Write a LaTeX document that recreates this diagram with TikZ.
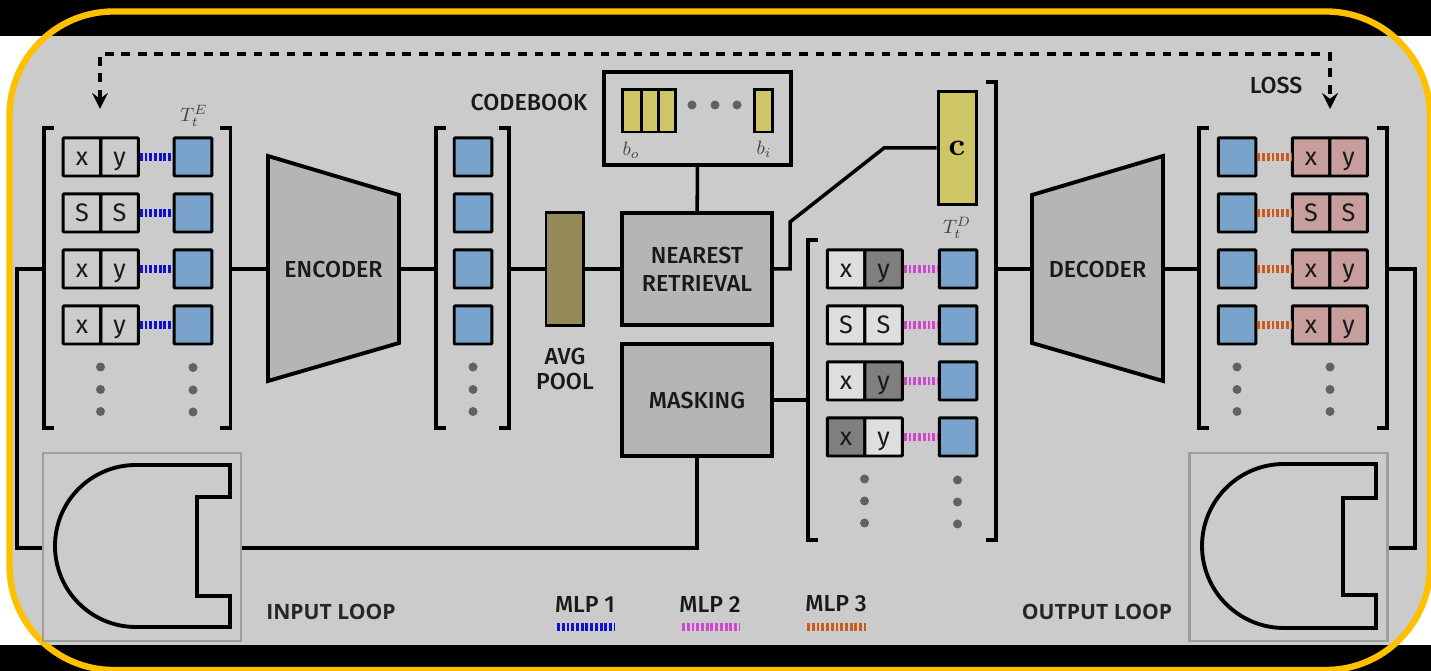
\documentclass[tikz,border=0pt]{standalone}
\usepackage[no-math]{fontspec}
\setmainfont{Fira Sans}[UprightFont=* Medium]
\newfontfamily\loopfont{Open Sans}
\newfontfamily\tokenfont{Fira Sans}
\usepackage{amsmath}

\definecolor{panelgray}{HTML}{CBCBCB}
\definecolor{blockgray}{HTML}{B5B5B5}
\definecolor{frameyellow}{HTML}{FFC000}
\definecolor{tokenblue}{HTML}{7AA3CC}
\definecolor{tokenlight}{HTML}{DEDEDE}
\definecolor{tokendark}{HTML}{7F7F7F}
\definecolor{tokenpink}{HTML}{C89E9C}
\definecolor{codeyellow}{HTML}{CEC666}
\definecolor{poololive}{HTML}{938A57}
\definecolor{mlpblue}{HTML}{1010D0}
\definecolor{mlppink}{HTML}{D048D0}
\definecolor{mlporange}{HTML}{C85A20}

\tikzset{
  label/.style={font=\fontsize{6.6}{8}\selectfont, text=black!90, inner sep=0pt, align=center},
  looplabel/.style={font=\loopfont\bfseries\fontsize{6}{7}\selectfont, text=black!85, inner sep=0pt},
  mathlabel/.style={text=black!75, inner sep=0pt, scale=0.55},
  token/.style={draw, line width=0.85pt, rounded corners=0.2pt, inner sep=0pt, minimum width=0.375cm,
    minimum height=0.38cm, font=\tokenfont\fontsize{7.2}{8}\selectfont, text=black!90, text height=4.6pt, text depth=0pt},
  lighttoken/.style={token, fill=tokenlight},
  darktoken/.style={token, fill=tokendark},
  pinktoken/.style={token, fill=tokenpink},
  plaintoken/.style={token},
  bluetoken/.style={token, fill=tokenblue},
  block/.style={label, draw, line width=1.1pt, fill=blockgray, minimum width=1.5cm, minimum height=1.12cm},
  codecell/.style={draw, line width=0.85pt, fill=codeyellow, inner sep=0pt, minimum height=0.42cm},
  dotnode/.style={circle, fill=black!62, inner sep=0pt, minimum size=0.09cm},
  loopbox/.style={draw=black!38, thick, inner sep=0pt, minimum width=1.98cm, minimum height=1.88cm},
  mlpa/.style={mlpblue, line width=2.5pt, dash pattern=on 0.8pt off 0.55pt},
  mlpb/.style={mlppink, line width=2.5pt, dash pattern=on 0.8pt off 0.55pt},
  mlpc/.style={mlporange, line width=2.5pt, dash pattern=on 0.8pt off 0.55pt},
  link/.style={line width=1pt},
  lossline/.style={line width=1pt, dash pattern=on 2.5pt off 2.2pt, stealth-stealth}
}

\begin{document}
\begin{tikzpicture}[x=0.01cm, y=-0.01cm]
    \useasboundingbox (0, 0) rectangle (1431, 671);

    % Backdrop
    \fill [white] (0, 36) rectangle (1431, 645);
    \fill [black] (0, 0) rectangle (1431, 36);
    \fill [black] (0, 645) rectangle (1431, 671);
    \begin{scope}
      \clip [rounded corners=1.04cm] (9.5, 11.5) rectangle (1430, 670);
      \fill [panelgray] (0, 36) rectangle (1431, 645);
    \end{scope}
    \draw [frameyellow, line width=1.8pt, rounded corners=1.04cm] (9.5, 11.5) rectangle (1430, 670);

    % Input tokens
    \draw [link] (54, 128) -- (44, 128) -- (44, 428) -- (54, 428);
    \draw [link] (220, 128) -- (230.5, 128) -- (230.5, 428) -- (220, 428);
    \node [plaintoken] (ina1) at (82, 157) {x};
    \node [plaintoken] (inb1) at (119.5, 157) {y};
    \node [bluetoken] (inz1) at (193, 157) {};
    \draw [mlpa] (inb1) -- (inz1);
    \node [plaintoken] (ina2) at (82, 213) {S};
    \node [plaintoken] (inb2) at (119.5, 213) {S};
    \node [bluetoken] (inz2) at (193, 213) {};
    \draw [mlpa] (inb2) -- (inz2);
    \node [plaintoken] (ina3) at (82, 269) {x};
    \node [plaintoken] (inb3) at (119.5, 269) {y};
    \node [bluetoken] (inz3) at (193, 269) {};
    \draw [mlpa] (inb3) -- (inz3);
    \node [plaintoken] (ina4) at (82, 325) {x};
    \node [plaintoken] (inb4) at (119.5, 325) {y};
    \node [bluetoken] (inz4) at (193, 325) {};
    \draw [mlpa] (inb4) -- (inz4);
    \node [dotnode] (indota1) at (100.5, 367) {};
    \node [dotnode] (indota2) at (100.5, 389.5) {};
    \node [dotnode] (indota3) at (100.5, 411.5) {};
    \node [dotnode] (indotb1) at (193, 367.5) {};
    \node [dotnode] (indotb2) at (193, 390) {};
    \node [dotnode] (indotb3) at (193, 412) {};
    \node [mathlabel] (inlabel) at (194, 116) {$T_t^E$};
    \coordinate (inleft) at (44, 269);
    \coordinate (inright) at (230.5, 269);

    % Encoder
    \draw [line width=1.1pt, fill=blockgray, line join=miter] (268, 156) -- (399, 195) -- (399, 343) -- (268, 381) -- cycle;
    \node [label, minimum width=1.31cm, minimum height=1.48cm] (encoder) at (333.5, 269) {ENCODER};
    \draw [link] (inright) -- (encoder);

    % Latent tokens
    \draw [link] (446, 128) -- (436, 128) -- (436, 428) -- (446, 428);
    \draw [link] (499, 128) -- (509, 128) -- (509, 428) -- (499, 428);
    \node [bluetoken] (lat1) at (473, 157) {};
    \node [bluetoken] (lat2) at (473, 213) {};
    \node [bluetoken] (lat3) at (473, 269) {};
    \node [bluetoken] (lat4) at (473, 325) {};
    \node [dotnode] (latdot1) at (473, 367) {};
    \node [dotnode] (latdot2) at (473, 389.5) {};
    \node [dotnode] (latdot3) at (473, 411.5) {};
    \coordinate (latleft) at (436, 269);
    \coordinate (latright) at (509, 269);
    \draw [link] (encoder) -- (latleft);

    % Pooling
    \node [draw, line width=0.85pt, fill=poololive, inner sep=0pt, minimum width=0.37cm, minimum height=1.12cm] (pool) at (564.5, 269) {};
    \node [label, font=\fontsize{6.6}{7.1}\selectfont] (poollabel) at (565, 369) {AVG\\POOL};
    \draw [link] (latright) -- (pool);

    % Retrieval and masking
    \node [block] (retrieval) at (697, 269) {NEAREST\\RETRIEVAL};
    \node [block] (masking) at (697, 400) {MASKING};
    \draw [link] (pool) -- (retrieval);

    % Codebook
    \node [draw, line width=1.1pt, inner sep=0pt, minimum width=1.87cm, minimum height=0.93cm] (codebook) at (697.5, 118.5) {};
    \node [label] (codelabel) at (529, 102) {CODEBOOK};
    \node [codecell, minimum width=0.19cm] (cella) at (632, 111) {};
    \node [codecell, minimum width=0.165cm] (cellb) at (649.75, 111) {};
    \node [codecell, minimum width=0.17cm] (cellc) at (666.5, 111) {};
    \node [codecell, minimum width=0.18cm] (celld) at (763, 111) {};
    \node [dotnode] (codedot1) at (692, 105) {};
    \node [dotnode] (codedot2) at (715, 105) {};
    \node [dotnode] (codedot3) at (737, 105) {};
    \node [mathlabel] (firstcode) at (631, 150) {$b_o$};
    \node [mathlabel] (lastcode) at (764, 149) {$b_i$};
    \draw [link] (codebook) -- (retrieval);

    % Retrieved code
    \node [draw, line width=0.85pt, fill=codeyellow, inner sep=0pt, minimum width=0.38cm, minimum height=1.12cm,
           font=\fontsize{9}{10}\selectfont] (code) at (957, 148) {$\mathbf{c}$};
    \coordinate (bendone) at (790, 269);
    \coordinate (bendtwo) at (790, 222);
    \coordinate (bendthree) at (884, 148);
    \draw [link] (retrieval) -- (bendone) -- (bendtwo) -- (bendthree) -- (code);

    % Decoder tokens
    \draw [link] (818, 240) -- (808, 240) -- (808, 540) -- (818, 540);
    \draw [link] (986, 82) -- (996, 82) -- (996, 540) -- (986, 540);
    \node [lighttoken] (maska1) at (846, 269) {x};
    \node [darktoken] (maskb1) at (883.5, 269) {y};
    \node [bluetoken] (maskz1) at (958, 269) {};
    \draw [mlpb] (maskb1) -- (maskz1);
    \node [lighttoken] (maska2) at (846, 325) {S};
    \node [lighttoken] (maskb2) at (883.5, 325) {S};
    \node [bluetoken] (maskz2) at (958, 325) {};
    \draw [mlpb] (maskb2) -- (maskz2);
    \node [lighttoken] (maska3) at (846, 381) {x};
    \node [darktoken] (maskb3) at (883.5, 381) {y};
    \node [bluetoken] (maskz3) at (958, 381) {};
    \draw [mlpb] (maskb3) -- (maskz3);
    \node [darktoken] (maska4) at (846, 437) {x};
    \node [lighttoken] (maskb4) at (883.5, 437) {y};
    \node [bluetoken] (maskz4) at (958, 437) {};
    \draw [mlpb] (maskb4) -- (maskz4);
    \node [dotnode] (maskdota1) at (864.5, 479) {};
    \node [dotnode] (maskdota2) at (864.5, 501) {};
    \node [dotnode] (maskdota3) at (864.5, 523) {};
    \node [dotnode] (maskdotb1) at (957.5, 480) {};
    \node [dotnode] (maskdotb2) at (957.5, 502) {};
    \node [dotnode] (maskdotb3) at (957.5, 524) {};
    \node [mathlabel] (masklabel) at (957, 228) {$T_t^D$};
    \coordinate (maskleft) at (808, 400);
    \coordinate (maskright) at (996, 269);
    \draw [link] (masking) -- (maskleft);

    % Decoder
    \draw [line width=1.1pt, fill=blockgray, line join=miter] (1163, 156) -- (1032, 195) -- (1032, 343) -- (1163, 381) -- cycle;
    \node [label, minimum width=1.31cm, minimum height=1.48cm] (decoder) at (1097.5, 269) {DECODER};
    \draw [link] (maskright) -- (decoder);

    % Output tokens
    \draw [link] (1209, 128) -- (1199, 128) -- (1199, 428) -- (1209, 428);
    \draw [link] (1377, 128) -- (1387, 128) -- (1387, 428) -- (1377, 428);
    \node [bluetoken] (outz1) at (1237, 157) {};
    \node [pinktoken] (outa1) at (1311, 157) {x};
    \node [pinktoken] (outb1) at (1348.5, 157) {y};
    \draw [mlpc] (outz1) -- (outa1);
    \node [bluetoken] (outz2) at (1237, 213) {};
    \node [pinktoken] (outa2) at (1311, 213) {S};
    \node [pinktoken] (outb2) at (1348.5, 213) {S};
    \draw [mlpc] (outz2) -- (outa2);
    \node [bluetoken] (outz3) at (1237, 269) {};
    \node [pinktoken] (outa3) at (1311, 269) {x};
    \node [pinktoken] (outb3) at (1348.5, 269) {y};
    \draw [mlpc] (outz3) -- (outa3);
    \node [bluetoken] (outz4) at (1237, 325) {};
    \node [pinktoken] (outa4) at (1311, 325) {x};
    \node [pinktoken] (outb4) at (1348.5, 325) {y};
    \draw [mlpc] (outz4) -- (outa4);
    \node [dotnode] (outdota1) at (1237, 367) {};
    \node [dotnode] (outdota2) at (1237, 389.5) {};
    \node [dotnode] (outdota3) at (1237, 411.5) {};
    \node [dotnode] (outdotb1) at (1330, 367) {};
    \node [dotnode] (outdotb2) at (1330, 389.5) {};
    \node [dotnode] (outdotb3) at (1330, 411.5) {};
    \coordinate (outleft) at (1199, 269);
    \coordinate (outright) at (1387, 269);
    \draw [link] (decoder) -- (outleft);

    % Input loop
    \node [loopbox] (inloop) at (142, 547) {};
    \draw [line width=1.1pt, line join=miter] (230, 465) -- (230, 497) -- (197, 497) -- (197, 596) -- (230, 596) -- (230, 627) -- (136, 627)
          arc [start angle=90, end angle=270, radius=81] -- cycle;
    \node [looplabel] (inlooplabel) at (331, 612) {INPUT LOOP};
    \coordinate (inwestbend) at (17, 269);
    \coordinate (insouthbend) at (17, 548);
    \coordinate (maskbend) at (697, 548);
    \draw [link] (inleft) -- (inwestbend) -- (insouthbend) -- (inloop.west |- insouthbend);
    \draw [link] (inloop.east |- maskbend) -- (maskbend) -- (masking);

    % Output loop
    \node [loopbox] (outloop) at (1288.5, 547) {};
    \draw [line width=1.1pt, line join=miter] (1376, 464) -- (1376, 498) -- (1343, 498) -- (1343, 595) -- (1376, 595) -- (1376, 628) -- (1284, 628)
          arc [start angle=90, end angle=270, radius=82] -- cycle;
    \node [looplabel] (outlooplabel) at (1097, 612) {OUTPUT LOOP};
    \coordinate (outeastbend) at (1415, 269);
    \coordinate (outsouthbend) at (1415, 548);
    \draw [link] (outright) -- (outeastbend) -- (outsouthbend) -- (outloop.east |- outsouthbend);

    % Loss
    \coordinate (lossleft) at (100, 109);
    \coordinate (losslefttop) at (100, 54);
    \coordinate (lossrighttop) at (1330, 54);
    \coordinate (lossright) at (1330, 109);
    \draw [lossline] (lossleft) -- (losslefttop) -- (lossrighttop) -- (lossright);
    \node [label] (losslabel) at (1276, 85) {LOSS};

    % Legend
    \node [label] (mlpone) at (585, 604) {MLP 1};
    \node [label] (mlptwo) at (710, 604) {MLP 2};
    \node [label] (mlpthree) at (836, 604) {MLP 3};
    \coordinate (mlponea) at (557, 627);
    \coordinate (mlponeb) at (615, 627);
    \coordinate (mlptwoa) at (682, 627);
    \coordinate (mlptwob) at (740, 627);
    \coordinate (mlpthreea) at (807, 627);
    \coordinate (mlpthreeb) at (866, 627);
    \draw [mlpa] (mlponea) -- (mlponeb);
    \draw [mlpb] (mlptwoa) -- (mlptwob);
    \draw [mlpc] (mlpthreea) -- (mlpthreeb);
\end{tikzpicture}
\end{document}
